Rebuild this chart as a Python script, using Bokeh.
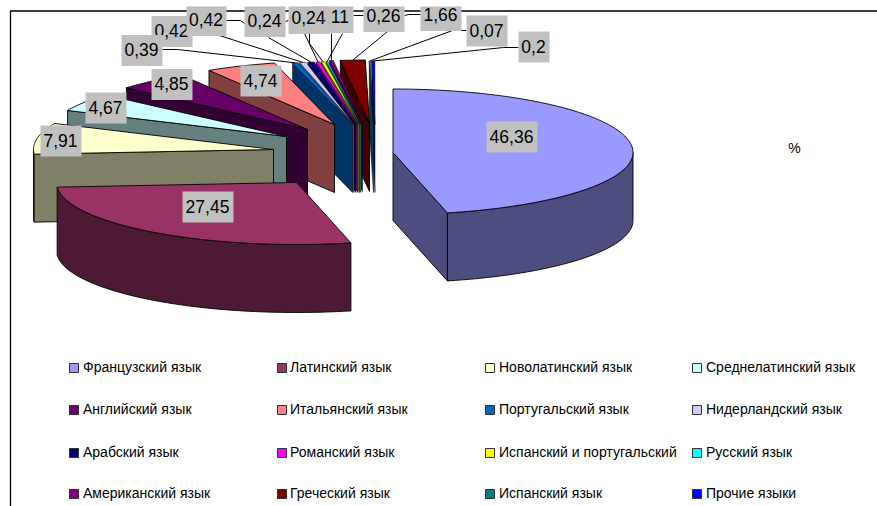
import math
from bokeh.core.properties import value
from bokeh.embed import file_html
from bokeh.plotting import figure
from bokeh.resources import INLINE

# Share of each language, percent
languages = ["Французский язык", "Латинский язык", "Новолатинский язык", "Среднелатинский язык",
             "Английский язык", "Итальянский язык", "Португальский язык", "Нидерландский язык",
             "Арабский язык", "Романский язык", "Испанский и португальский", "Русский язык",
             "Американский язык", "Греческий язык", "Испанский язык", "Прочие языки"]
shares = [46.36, 27.45, 7.91, 4.67, 4.85, 4.74, 0.39, 0.42, 0.42, 0.24, 0.24, 0.11, 0.26, 1.66, 0.07, 0.2]
share_labels = ["46,36", "27,45", "7,91", "4,67", "4,85", "4,74", "0,39", "0,42", "0,42", "0,24", "0,24",
                "0,11", "0,26", "1,66", "0,07", "0,2"]
top_colors = ["#9999FF", "#993366", "#FFFFCC", "#CCFFFF", "#660066", "#FF8080", "#0066CC", "#CCCCFF",
              "#000080", "#FF00FF", "#FFFF00", "#00FFFF", "#800080", "#800000", "#008080", "#0000FF"]
side_colors = ["#4D4D80", "#4D1A33", "#808066", "#668080", "#330033", "#804040", "#003366", "#666680",
               "#000040", "#800080", "#808000", "#008080", "#400040", "#400000", "#004040", "#000080"]

# Layout of the exploded pie, in page pixels; the near half is flattened slightly by the tilt
RX, RY_BACK, RY_FRONT, DEPTH = 240, 63.5, 62, 68
apex_x = [392.5, 296, 273, 286, 307, 334, 352, 353.5, 355.5, 357.5, 359, 360.5, 362, 369, 373, 374.5]
apex_y = [152, 182, 149, 136, 129, 124, 124, 124, 124, 124, 124, 124, 123, 123, 124, 124]

# Data label placement: text centre and box extents
label_cx = [511.5, 207.5, 60.5, 105.5, 171.5, 260.5, 141.5, 171.5, 206, 264.5, 308.5, 332.5, 383.5, 440.5, 486.5, 533.5]
label_cy = [136.5, 206.5, 140.5, 107.5, 84, 80.5, 50, 31, 20, 21, 18, 17, 16, 15, 30.5, 46.5]
label_w = [51, 51, 41, 41, 41, 41, 41, 41, 40, 41, 41, 41, 41, 41, 41, 31]
# Later labels paint over earlier ones where the boxes overlap
label_order = [0, 1, 2, 3, 4, 5, 7, 6, 8, 9, 11, 10, 12, 13, 14, 15]
BOX_H, BOX_TOP = 31, 6
TEXT_RAISE = 1

# Leader elbows; the index names the slice whose rim the leader ends on
leaders = [([162, 177], [49, 49], 6), ([219], [35], 7), ([268], [37], 8), ([304], [33], 9),
           ([309, 309], [33, 43], 10), ([342], [33], 11), ([331], [33], 12), ([387], [31], 13),
           ([466, 452], [30, 30], 14), ([518, 503], [47, 47], 15)]
connector_x = [[226, 240, 244], [285, 288], [353, 363], [404, 408, 420]]
connector_y = [[20, 20, 23], [21, 20], [15, 15], [15, 14, 14]]

legend_swatch_x = [69, 277, 485, 692]
legend_text_x = [82.5, 289.5, 498.5, 705.5]
legend_row_y = [367, 409, 452, 493]

FONT = value("Liberation Sans")


def rim(i, t):
    a = math.radians(t)
    c = math.cos(a)
    return apex_x[i] + RX * math.sin(a), apex_y[i] - (RY_BACK if c > 0 else RY_FRONT) * c


def arc_points(i, t0, t1):
    steps = max(2, int(abs(t1 - t0)) + 2)
    return [rim(i, t0 + (t1 - t0) * k / (steps - 1)) for k in range(steps)]


p = figure(width=877, height=506, x_range=(0, 877), y_range=(506, 0), output_backend="svg",
           toolbar_location=None, min_border=0, outline_line_color=None, background_fill_color="white")
p.axis.visible = False
p.grid.visible = False

# Chart frame: only the top and left edges fall inside the page
p.line([10, 10, 877], [506, 10.5, 10.5], line_color="black", line_width=1.3)

starts, running = [], 0.0
for s in shares:
    starts.append(running * 3.6)
    running += s
ends = [a + s * 3.6 for a, s in zip(starts, shares)]


def face(xs, ys, color, width=0.9):
    p.patch(xs, ys, fill_color=color, line_color="black", line_width=width)


def wall(i, t, color, width):
    x, y = rim(i, t)
    face([apex_x[i], x, x, apex_x[i]], [apex_y[i], y, y + DEPTH, apex_y[i] + DEPTH], color, width)


def draw_slice(i):
    t0, t1 = starts[i], ends[i]
    width = 0.5 if shares[i] < 1 else 0.9
    lo, hi = max(t0, 90), min(t1, 270)
    if lo < hi:
        pts = arc_points(i, lo, hi)
        face([q[0] for q in pts] + [q[0] for q in reversed(pts)],
             [q[1] for q in pts] + [q[1] + DEPTH for q in reversed(pts)], side_colors[i], width)
    if 180 < t0 < 360:
        wall(i, t0, side_colors[i], width)
    if 0 < t1 < 180:
        wall(i, t1, side_colors[i], width)
    pts = arc_points(i, t0, t1)
    face([apex_x[i]] + [q[0] for q in pts], [apex_y[i]] + [q[1] for q in pts], top_colors[i], width)


# Back slices first, working round to the front of the pie
draw_slice(0)
for i in range(len(shares) - 1, 0, -1):
    draw_slice(i)

for xs, ys, i in leaders:
    ex, ey = rim(i, (starts[i] + ends[i]) / 2)
    p.line(xs + [ex], ys + [ey], line_color="black", line_width=1)
for xs, ys in zip(connector_x, connector_y):
    p.line(xs, ys, line_color="black", line_width=1)

for i in label_order:
    half = label_w[i] / 2
    p.quad(left=[label_cx[i] - half], right=[label_cx[i] + half],
           top=[max(BOX_TOP, label_cy[i] - BOX_H / 2)], bottom=[label_cy[i] + BOX_H / 2],
           fill_color="#C0C0C0", line_color=None)
    p.text([label_cx[i] - 0.5], [label_cy[i] - TEXT_RAISE], text=[share_labels[i]], text_font=FONT,
           text_font_size="17.5px", text_align="center", text_baseline="middle", text_color="black")

p.text([794], [148 - TEXT_RAISE], text=["%"], text_font=FONT, text_font_size="14px",
       text_align="center", text_baseline="middle", text_color="black")

for n, name in enumerate(languages):
    r, c = divmod(n, 4)
    sx, y = legend_swatch_x[c], legend_row_y[r]
    p.quad(left=[sx], right=[sx + 9], top=[y - 4], bottom=[y + 5],
           fill_color=top_colors[n], line_color="#333333", line_width=1)
    p.text([legend_text_x[c]], [y - TEXT_RAISE], text=[name], text_font=FONT, text_font_size="14px",
           text_align="left", text_baseline="middle", text_color="black")

open("out.html", "w").write(file_html(p, INLINE))
